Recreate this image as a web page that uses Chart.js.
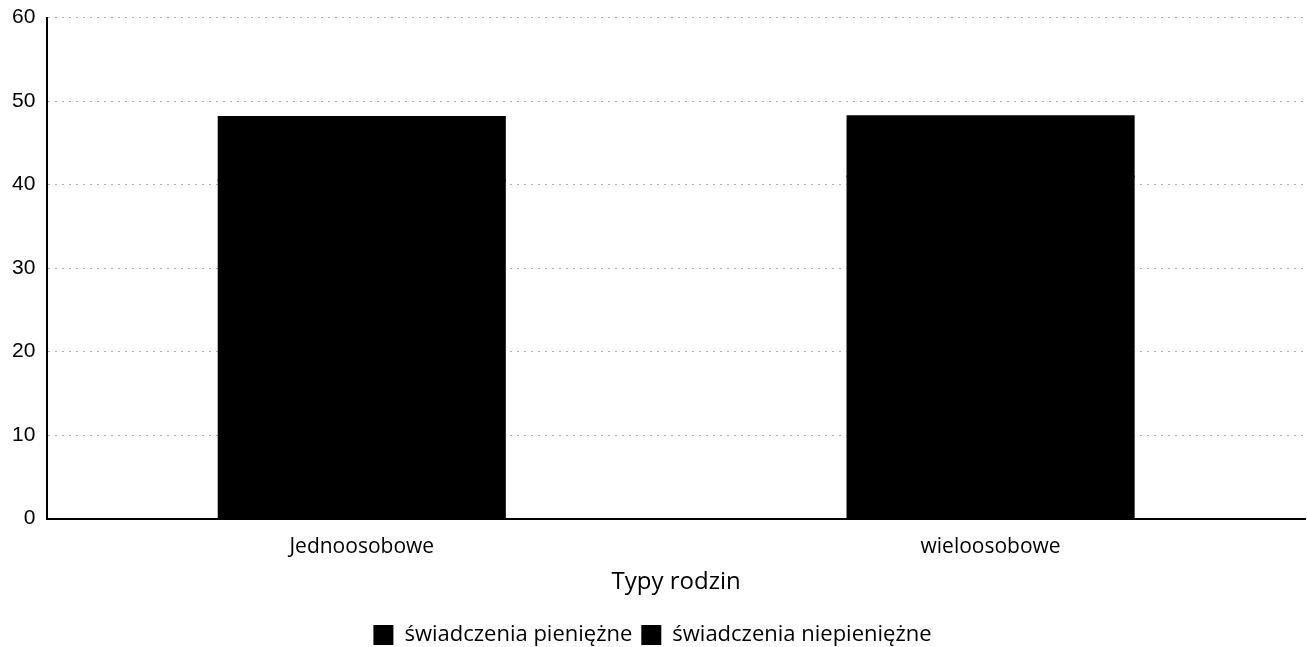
<!DOCTYPE html>
<html lang="pl">
  <head>
    <meta charset="UTF-8" />
    <style>
      body { margin: 0; background: #fff; overflow: hidden; }
      #wrap { width: 1307px; height: 663px; margin-top: -7px; }
    </style>
    <script src="https://cdn.jsdelivr.net/npm/chart.js"></script>
  </head>
  <body>
    <div id="wrap"><canvas id="chart"></canvas></div>
    <script>
      const categories = ["Jednoosobowe", "wieloosobowe"];
      const pieniezne = [40.5, 41.0];
      const niepieniezne = [7.6, 7.2];
      const yTicks = [0, 10, 20, 30, 40, 50, 60];

      Chart.defaults.font.family = "'Open Sans', sans-serif";
      Chart.defaults.color = "#000";

      new Chart(document.getElementById("chart"), {
        type: "bar",
        data: {
          labels: categories,
          datasets: [
            { label: "świadczenia pieniężne", data: pieniezne, backgroundColor: "#000" },
            { label: "świadczenia niepieniężne", data: niepieniezne, backgroundColor: "#000" },
          ],
        },
        options: {
          responsive: true,
          maintainAspectRatio: false,
          animation: false,
          layout: { padding: { top: 0, right: 2, left: 0, bottom: 0 } },
          datasets: { bar: { categoryPercentage: 1, barPercentage: 0.455, inflateAmount: 1 } },
          plugins: {
            legend: {
              position: "bottom",
              labels: { boxWidth: 20, boxHeight: 20, font: { size: 22 }, padding: 9 },
            },
            tooltip: { enabled: false },
          },
          scales: {
            x: {
              stacked: true,
              grid: { display: false, drawTicks: false },
              border: { color: "#000", width: 2 },
              ticks: { font: { size: 21, lineHeight: 0.6 }, padding: 22 },
              title: { display: true, text: "Typy rodzin", font: { size: 24 }, padding: { top: -7, bottom: 18 } },
            },
            y: {
              stacked: true,
              min: 0,
              max: 60,
              afterBuildTicks: (axis) => { axis.ticks = yTicks.map((v) => ({ value: v })); },
              grid: { color: "#b0b0b0", lineWidth: 1, drawTicks: false },
              border: { color: "#000", width: 2, dash: [2, 5] },
              ticks: { font: { family: "'Liberation Sans', Arial", size: 21 }, padding: 12 },
            },
          },
        },
      });
    </script>
  </body>
</html>
